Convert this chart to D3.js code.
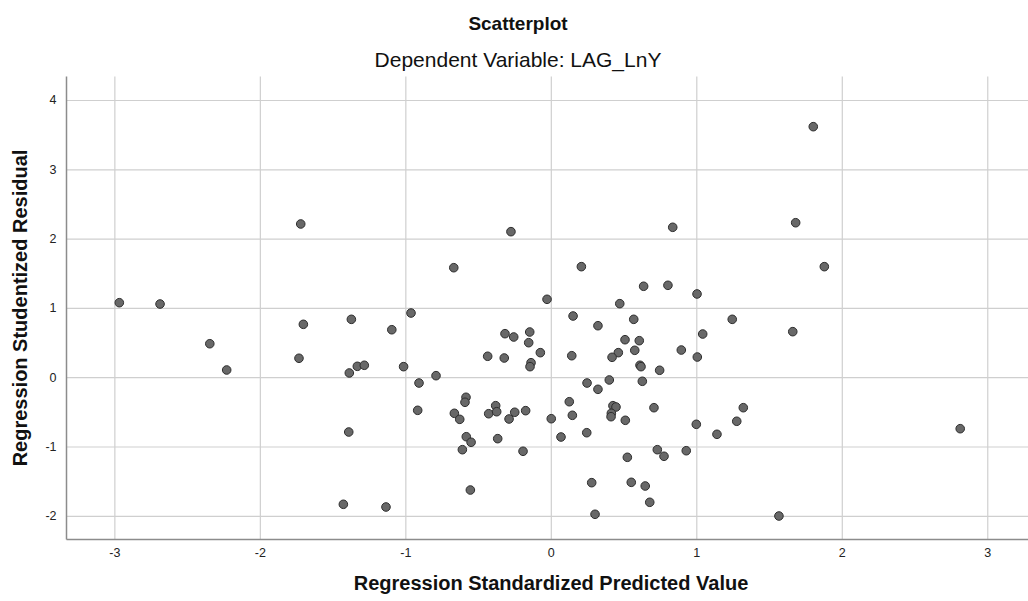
<!DOCTYPE html>
<html>

<head>
    <meta charset="utf-8">
    <style>
        body {
            margin: 0;
            background: #fff;
        }

        svg {
            display: block;
            font-family: 'Liberation Sans', Arial, sans-serif;
        }

        .grid .tick line {
            stroke: #cfcfcf;
            stroke-width: 1.2;
        }

        .grid .domain {
            display: none;
        }

        .tick text {
            font-size: 12.5px;
            fill: #222;
        }

        .axis-line {
            stroke: #8c8c8c;
            stroke-width: 1.5;
        }

        .title {
            font-size: 19px;
            font-weight: bold;
            fill: #111;
        }

        .subtitle {
            font-size: 21px;
            fill: #111;
        }

        .axis-label {
            font-size: 20px;
            font-weight: bold;
            fill: #111;
        }

        .dot {
            fill: #686868;
            stroke: #2e2e2e;
            stroke-width: 1;
        }
    </style>
</head>

<body>
    <svg width="1028" height="601"></svg>
</body>

<script src="https://d3js.org/d3.v7.min.js"></script>

<script>
    // regression standardized predicted value (x) and studentized residual (y)
    let predicted = [
        -2.966, -2.686, -2.344, -2.228, -1.719, -1.701, -1.731, -1.371, -1.093, -0.961,
        -1.385, -1.330, -1.282, -1.012, -1.389, -1.426, -1.133, -0.274, 0.838, -0.667,
        0.210, 0.638, 0.805, 1.005, -0.026, 0.474, 0.153, 0.324, 0.570, -0.315,
        -0.255, -0.145, -0.152, 0.510, 0.608, 1.044, 0.577, 0.464, 0.421, 0.897,
        1.007, -0.434, -0.320, -0.072, 0.144, -0.136, -0.143, 0.613, 0.620, 0.748,
        -0.789, -0.906, 0.249, 0.324, 0.402, 0.629, -0.583, -0.590, -0.915, -0.663,
        -0.626, -0.427, -0.379, -0.372, -0.287, -0.248, -0.173, 0.003, 0.127, 0.148,
        0.427, 0.448, 0.416, 0.414, 0.512, 0.709, 1.000, 1.142, -0.581, -0.548,
        -0.608, -0.365, -0.191, 0.070, 0.247, 0.526, 0.732, 0.778, 0.931, -0.553,
        0.281, 0.553, 0.649, 0.680, 0.304, 1.804, 1.683, 1.880, 1.247, 1.663,
        1.323, 1.278, 2.814, 1.568
    ]

    let residual = [
        1.075, 1.056, 0.483, 0.104, 2.211, 0.763, 0.273, 0.835, 0.685, 0.926,
        0.061, 0.157, 0.172, 0.152, -0.791, -1.834, -1.873, 2.100, 2.163, 1.580,
        1.595, 1.312, 1.326, 1.201, 1.124, 1.061, 0.883, 0.743, 0.835, 0.628,
        0.580, 0.652, 0.498, 0.541, 0.527, 0.623, 0.388, 0.354, 0.287, 0.392,
        0.291, 0.302, 0.277, 0.354, 0.310, 0.209, 0.152, 0.172, 0.152, 0.100,
        0.022, -0.084, -0.084, -0.175, -0.040, -0.059, -0.290, -0.362, -0.478, -0.521,
        -0.608, -0.527, -0.411, -0.498, -0.603, -0.506, -0.483, -0.599, -0.354, -0.550,
        -0.411, -0.430, -0.521, -0.570, -0.622, -0.440, -0.680, -0.824, -0.859, -0.939,
        -1.046, -0.887, -1.069, -0.863, -0.801, -1.156, -1.046, -1.141, -1.061, -1.628,
        -1.522, -1.517, -1.570, -1.805, -1.978, 3.615, 2.229, 1.595, 0.835, 0.657,
        -0.440, -0.636, -0.743, -2.003
    ]

    let xTicks = [-3, -2, -1, 0, 1, 2, 3]
    let yTicks = [-2, -1, 0, 1, 2, 3, 4]

    let titleText = "Scatterplot"
    let subtitleText = "Dependent Variable: LAG_LnY"
    let xLabel = "Regression Standardized Predicted Value"
    let yLabel = "Regression Studentized Residual"

    let data = predicted.map((p, i) => ({ x: p, y: residual[i] }))

    let svg = d3.select("svg")

    let margin = { top: 76.5, right: 0, bottom: 61.5, left: 66.5 }
    let width = 1028 - margin.left - margin.right
    let height = 601 - margin.top - margin.bottom

    let x = d3.scaleLinear()
        .domain([-3.329, 3.28])
        .range([margin.left, margin.left + width])

    let y = d3.scaleLinear()
        .domain([-2.342, 4.339])
        .range([margin.top + height, margin.top])

    // plain hyphen for negatives, like the original
    let fmt = d => String(d)

    // vertical gridlines + x tick labels
    svg.append("g")
        .attr("class", "grid x")
        .attr("transform", `translate(0,${margin.top + height})`)
        .call(d3.axisBottom(x)
            .tickValues(xTicks)
            .tickSize(-height)
            .tickPadding(9)
            .tickFormat(fmt))

    // horizontal gridlines + y tick labels
    svg.append("g")
        .attr("class", "grid y")
        .attr("transform", `translate(${margin.left},0)`)
        .call(d3.axisLeft(y)
            .tickValues(yTicks)
            .tickSize(-width)
            .tickPadding(10)
            .tickFormat(fmt))

    // axis lines
    svg.append("line")
        .attr("class", "axis-line")
        .attr("x1", margin.left).attr("x2", margin.left)
        .attr("y1", margin.top).attr("y2", margin.top + height)

    svg.append("line")
        .attr("class", "axis-line")
        .attr("x1", margin.left).attr("x2", margin.left + width)
        .attr("y1", margin.top + height).attr("y2", margin.top + height)

    svg.append("g")
        .selectAll("circle")
        .data(data)
        .join("circle")
        .attr("class", "dot")
        .attr("cx", d => x(d.x))
        .attr("cy", d => y(d.y))
        .attr("r", 4.3)

    svg.append("text")
        .attr("class", "title")
        .attr("x", 518)
        .attr("y", 30)
        .attr("text-anchor", "middle")
        .text(titleText)

    svg.append("text")
        .attr("class", "subtitle")
        .attr("x", 518)
        .attr("y", 67)
        .attr("text-anchor", "middle")
        .text(subtitleText)

    svg.append("text")
        .attr("class", "axis-label")
        .attr("x", 551)
        .attr("y", 590)
        .attr("text-anchor", "middle")
        .text(xLabel)

    svg.append("text")
        .attr("class", "axis-label")
        .attr("transform", "translate(27,308) rotate(-90)")
        .attr("text-anchor", "middle")
        .text(yLabel)
</script>

</html>
